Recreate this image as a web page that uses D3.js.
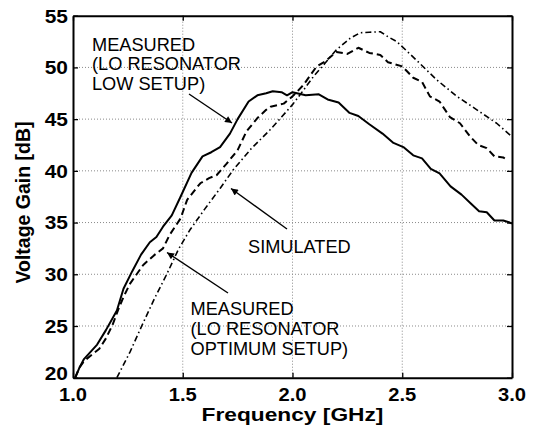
<!DOCTYPE html>
<html><head><meta charset="utf-8">
<script src="https://cdn.jsdelivr.net/npm/d3@7"></script>
<style>
html,body{margin:0;padding:0;background:#fff;}
text{font-family:"Liberation Sans",Arial,Helvetica,sans-serif;fill:#000;}
</style></head>
<body><svg id="chart" width="538" height="429"></svg>
<script>
// ---- data ----
const xTicks = [1.0, 1.5, 2.0, 2.5, 3.0];
const yTicks = [20, 25, 30, 35, 40, 45, 50, 55];

const lowFreq = [1.01,1.03,1.05,1.08,1.11,1.15,1.20,1.23,1.27,1.31,1.35,1.38,1.41,1.45,1.49,1.54,1.59,1.63,1.67,1.715,1.75,1.80,1.84,1.88,1.91,1.95,1.975,2.00,2.06,2.12,2.16,2.21,2.26,2.30,2.35,2.41,2.46,2.505,2.55,2.59,2.63,2.67,2.72,2.77,2.81,2.85,2.885,2.92,2.96,2.99,3.00];
const lowGain = [20.0,21.0,21.8,22.5,23.2,24.6,26.5,28.6,30.3,31.9,33.1,33.6,34.6,35.7,37.5,39.8,41.4,41.8,42.3,43.6,45.0,46.7,47.3,47.5,47.7,47.6,47.3,47.6,47.3,47.4,46.9,46.6,45.6,45.3,44.5,43.6,42.7,42.3,41.5,41.2,40.2,39.75,38.5,37.7,36.9,36.1,36.0,35.2,35.2,35.0,34.9];

const optFreq = [1.01,1.03,1.05,1.09,1.12,1.15,1.18,1.21,1.23,1.26,1.29,1.32,1.37,1.41,1.44,1.49,1.52,1.58,1.62,1.655,1.70,1.75,1.79,1.84,1.88,1.90,1.96,2.00,2.05,2.11,2.15,2.20,2.25,2.30,2.35,2.40,2.435,2.50,2.55,2.59,2.626,2.67,2.717,2.763,2.81,2.846,2.885,2.92,2.96,2.98];
const optGain = [20.0,21.0,21.6,22.3,22.8,23.8,25.1,26.8,27.8,29.1,30.0,30.9,31.85,32.5,33.8,35.4,37.2,38.8,39.3,39.6,40.7,42.0,43.8,45.1,45.9,46.2,46.5,47.2,48.3,50.1,50.6,51.5,51.3,51.9,51.4,51.2,50.5,50.1,49.0,48.6,47.2,46.7,45.2,44.6,43.3,42.5,42.2,41.4,41.3,41.0];

const simFreq = [1.20,1.26,1.313,1.37,1.427,1.48,1.533,1.60,1.67,1.73,1.81,1.897,1.95,2.00,2.05,2.095,2.148,2.20,2.262,2.308,2.35,2.40,2.44,2.475,2.55,2.657,2.749,2.84,2.93,3.00];
const simGain = [20.0,22.5,25.0,27.6,30.0,32.4,34.3,36.3,38.3,40.1,42.1,43.95,45.2,46.4,47.8,49.1,50.4,51.7,52.8,53.35,53.4,53.45,52.9,52.5,51.0,48.8,47.2,45.9,44.6,43.3];

const labelLow = ["MEASURED", "(LO RESONATOR", "LOW SETUP)"];
const labelOpt = ["MEASURED", "(LO RESONATOR", "OPTIMUM SETUP)"];
const labelSim = ["SIMULATED"];

// ---- layout ----
const L = 73, R = 512, T = 15.7, B = 377.7;
const svg = d3.select("#chart");
const x = d3.scaleLinear().domain([1, 3]).range([L, R]);
const y = d3.scaleLinear().domain([20, 55]).range([B, T]);

// grid
const g = svg.append("g");
g.selectAll(".vg").data(xTicks.slice(1, -1)).enter().append("line")
  .attr("x1", d => x(d)).attr("x2", d => x(d)).attr("y1", T).attr("y2", B)
  .attr("stroke", "#8a8a8a").attr("stroke-width", 1).attr("stroke-dasharray", "1,2");
g.selectAll(".hg").data(yTicks.slice(1, -1)).enter().append("line")
  .attr("y1", d => y(d)).attr("y2", d => y(d)).attr("x1", L).attr("x2", R)
  .attr("stroke", "#8a8a8a").attr("stroke-width", 1).attr("stroke-dasharray", "1,2");

// axes with inner ticks
const axB = d3.axisBottom(x).tickValues(xTicks).tickSizeInner(-5).tickSizeOuter(0).tickFormat("");
const axT = d3.axisTop(x).tickValues(xTicks).tickSizeInner(-5).tickSizeOuter(0).tickFormat("");
const axLft = d3.axisLeft(y).tickValues(yTicks).tickSizeInner(-5).tickSizeOuter(0).tickFormat("");
const axRgt = d3.axisRight(y).tickValues(yTicks).tickSizeInner(-5).tickSizeOuter(0).tickFormat("");
[[axB, `translate(0,${B})`], [axT, `translate(0,${T})`], [axLft, `translate(${L},0)`], [axRgt, `translate(${R},0)`]]
  .forEach(([a, t]) => {
    const ag = svg.append("g").attr("transform", t).call(a);
    ag.selectAll("path").attr("stroke", "#000").attr("stroke-width", 2);
    ag.selectAll("line").attr("stroke", "#000").attr("stroke-width", 1.3);
  });

// tick labels
svg.selectAll(".xl").data(xTicks).enter().append("text")
  .attr("transform", d => `translate(${x(d)},401) scale(1.12,1)`)
  .attr("text-anchor", "middle").attr("font-size", 18).attr("font-weight", "bold")
  .text(d => d.toFixed(1));
svg.selectAll(".yl").data(yTicks).enter().append("text")
  .attr("transform", (d, i) => `translate(68,${y(d) + (i === 0 ? 2.5 : 6.8)}) scale(1.1,1)`)
  .attr("text-anchor", "end").attr("font-size", 19).attr("font-weight", "bold")
  .text(d => d);

// axis titles
svg.append("text").attr("transform", `translate(${(L + R) / 2},421) scale(1.3,1)`)
  .attr("text-anchor", "middle").attr("font-size", 17.5).attr("font-weight", "bold")
  .text("Frequency [GHz]");
svg.append("text").attr("transform", `translate(29.5,202.5) rotate(-90)`)
  .attr("text-anchor", "middle").attr("font-size", 19.5).attr("font-weight", "bold")
  .text("Voltage Gain [dB]");

// curves
const line = d3.line().x(d => x(d[0])).y(d => y(d[1])).curve(d3.curveLinear);
function draw(fr, gn, w, dash) {
  svg.append("path").datum(fr.map((f, i) => [f, gn[i]]))
    .attr("d", line).attr("fill", "none").attr("stroke", "#000")
    .attr("stroke-width", w).attr("stroke-linejoin", "round")
    .attr("stroke-dasharray", dash);
}
draw(simFreq, simGain, 1.6, "6,3,1.5,3");
draw(optFreq, optGain, 2, "7,4");
draw(lowFreq, lowGain, 2, null);

// annotations
function block(lines, x0, y0, step) {
  lines.forEach((s, i) => {
    svg.append("text").attr("transform", `translate(${x0},${y0 + i * step}) scale(1.04,1)`)
      .attr("font-size", 17.5).text(s);
  });
}
block(labelLow, 92, 50.5, 19.5);
block(labelOpt, 190.5, 315, 20);
block(labelSim, 248, 252.5, 20);

svg.append("defs").append("marker").attr("id", "ah")
  .attr("viewBox", "0 0 10 10").attr("refX", 10).attr("refY", 5)
  .attr("markerWidth", 9).attr("markerHeight", 7).attr("markerUnits", "userSpaceOnUse")
  .attr("orient", "auto").append("path").attr("d", "M0,0L10,5L0,10z").attr("fill", "#000");
const arrows = [[189, 94, 232, 123], [287, 229, 231, 188.5], [228, 293, 167, 252.5]];
svg.selectAll(".arr").data(arrows).enter().append("line")
  .attr("x1", d => d[0]).attr("y1", d => d[1]).attr("x2", d => d[2]).attr("y2", d => d[3])
  .attr("stroke", "#000").attr("stroke-width", 1.4).attr("marker-end", "url(#ah)");
</script></body></html>
